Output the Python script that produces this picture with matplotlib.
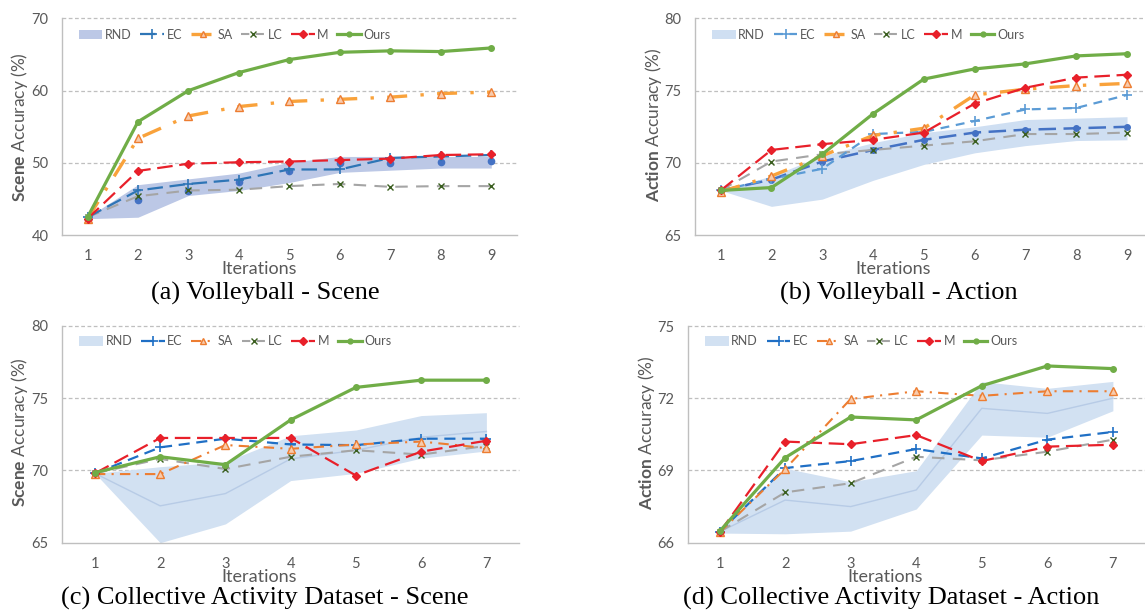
import matplotlib
matplotlib.use("Agg")
import matplotlib.pyplot as plt
from matplotlib.patches import Patch
from matplotlib.lines import Line2D

plt.rcParams['font.family'] = ['Lato', 'DejaVu Sans']
plt.rcParams['mathtext.fontset'] = 'custom'
plt.rcParams['mathtext.bf'] = 'Lato:bold'
plt.rcParams['mathtext.rm'] = 'Lato'

# ---------------- data ----------------
it9 = [1, 2, 3, 4, 5, 6, 7, 8, 9]
it7 = [1, 2, 3, 4, 5, 6, 7]

# (a) Volleyball - Scene
a_ours = [42.5, 55.7, 60.0, 62.5, 64.3, 65.3, 65.5, 65.4, 65.9]
a_sa = [42.3, 53.4, 56.5, 57.8, 58.5, 58.8, 59.1, 59.6, 59.8]
a_m = [42.3, 48.9, 49.9, 50.1, 50.2, 50.4, 50.6, 51.1, 51.2]
a_ec = [42.5, 46.2, 47.1, 47.7, 49.1, 49.1, 50.7, 50.9, 51.1]
a_lc = [42.5, 45.4, 46.2, 46.3, 46.8, 47.1, 46.7, 46.8, 46.8]
a_rnd_mean = [42.3, 44.9, 46.1, 47.4, 48.9, 50.0, 50.0, 50.2, 50.3]
a_rnd_hi = [42.5, 47.0, 47.8, 48.6, 50.1, 50.9, 50.9, 50.9, 50.9]
a_rnd_lo = [42.3, 42.5, 45.5, 46.2, 47.3, 48.7, 49.0, 49.3, 49.3]

# (b) Volleyball - Action
b_ours = [68.1, 68.3, 70.6, 73.4, 75.8, 76.5, 76.85, 77.4, 77.55]
b_sa = [68.0, 69.1, 70.5, 71.9, 72.4, 74.7, 75.1, 75.35, 75.5]
b_m = [68.1, 70.9, 71.3, 71.6, 72.1, 74.1, 75.2, 75.9, 76.1]
b_ec = [68.1, 68.9, 69.6, 72.0, 72.15, 72.9, 73.7, 73.8, 74.7]
b_lc = [68.1, 70.1, 70.6, 70.9, 71.2, 71.5, 72.0, 72.0, 72.1]
b_rnd_mean = [68.1, 68.85, 70.1, 70.9, 71.6, 72.1, 72.3, 72.4, 72.5]
b_rnd_hi = [68.1, 69.1, 70.5, 71.4, 72.1, 72.5, 73.0, 73.1, 73.2]
b_rnd_lo = [68.1, 67.0, 67.5, 68.8, 69.9, 70.7, 71.2, 71.55, 71.6]

# (c) Collective Activity Dataset - Scene
c_ours = [69.85, 70.95, 70.4, 73.5, 75.75, 76.25, 76.25]
c_sa = [69.75, 69.75, 71.76, 71.5, 71.8, 72.0, 71.55]
c_m = [69.8, 72.25, 72.25, 72.25, 69.65, 71.3, 72.06]
c_ec = [69.8, 71.6, 72.2, 71.8, 71.75, 72.2, 72.2]
c_lc = [69.8, 70.8, 70.1, 70.95, 71.4, 71.1, 71.7]
c_rnd_mean = [69.8, 67.55, 68.4, 70.8, 71.4, 72.3, 72.7]
c_rnd_hi = [69.8, 70.26, 70.6, 72.4, 72.8, 73.8, 74.0]
c_rnd_lo = [69.8, 65.0, 66.3, 69.3, 69.8, 70.85, 71.35]

# (d) Collective Activity Dataset - Action
d_ours = [66.47, 69.53, 71.22, 71.1, 72.52, 73.34, 73.23]
d_sa = [66.43, 69.06, 71.97, 72.29, 72.1, 72.29, 72.29]
d_m = [66.43, 70.2, 70.09, 70.47, 69.39, 69.99, 70.07]
d_ec = [66.45, 69.1, 69.39, 69.89, 69.5, 70.28, 70.6]
d_lc = [66.45, 68.09, 68.47, 69.57, 69.42, 69.78, 70.28]
d_rnd_mean = [66.45, 67.77, 67.5, 68.19, 71.58, 71.37, 72.0]
d_rnd_hi = [66.55, 69.09, 68.53, 68.99, 72.69, 72.41, 72.7]
d_rnd_lo = [66.4, 66.37, 66.48, 67.4, 70.47, 70.38, 71.48]

legend_labels = ['RND', 'EC', 'SA', 'LC', 'M', 'Ours']
captions = ['(a) Volleyball - Scene', '(b) Volleyball - Action',
            '(c) Collective Activity Dataset - Scene',
            '(d) Collective Activity Dataset - Action']
ylabels = [r'$\bf{Scene}$ Accuracy (%)', r'$\bf{Action}$ Accuracy (%)',
           r'$\bf{Scene}$ Accuracy (%)', r'$\bf{Action}$ Accuracy (%)']
xlabel = 'Iterations'

# ---------------- figure ----------------
W, H = 1145, 612
fig = plt.figure(figsize=(W / 100, H / 100), dpi=100)

def fx(px):
    return px / W

def fy(py):
    return 1 - py / H

TXT = '#595959'
GREEN = '#70AD47'
RED = '#E8202A'
GRAY = '#A5A5A5'
LCMK = '#3A5E1F'

panels = [
    dict(rect=(62.3, 18.3, 516.5, 235.3), x=it9, xlim=(0.5, 9.5), ylim=(40, 70), yt=[40, 50, 60, 70],
         ours=a_ours, sa=a_sa, m=a_m, ec=a_ec, lc=a_lc, mean=a_rnd_mean, hi=a_rnd_hi, lo=a_rnd_lo,
         band='#BCC8E6', ec_col='#2E75B6', ec_dash=(7, 3), sa_col='#F9A23B', sa_lw=2.4, sa_dash=(6, 4, 1, 4),
         mean_style='dots', ylab=(20, 127.5), xlab=(259.5, 269), cap=(265.4, 300), leg=(0.036, 0.952)),
    dict(rect=(695.3, 18.3, 1145, 235.3), x=it9, xlim=(0.5, 9.354), ylim=(65, 80), yt=[65, 70, 75, 80],
         ours=b_ours, sa=b_sa, m=b_m, ec=b_ec, lc=b_lc, mean=b_rnd_mean, hi=b_rnd_hi, lo=b_rnd_lo,
         band='#CFDFF2', ec_col='#5B9BD5', ec_dash=(4, 3), sa_col='#F9A23B', sa_lw=2.4, sa_dash=(6, 4, 1, 4),
         mean_style='dashed', ylab=(653.4, 125), xlab=(892.7, 269), cap=(898.6, 300), leg=(0.037, 0.952)),
    dict(rect=(62.3, 326, 519, 542.7), x=it7, xlim=(0.5, 7.5), ylim=(65, 80), yt=[65, 70, 75, 80],
         ours=c_ours, sa=c_sa, m=c_m, ec=c_ec, lc=c_lc, mean=c_rnd_mean, hi=c_rnd_hi, lo=c_rnd_lo,
         band='#D2E1F2', ec_col='#1F6FC5', ec_dash=(5, 3), sa_col='#ED7D31', sa_lw=1.5, sa_dash=(5, 3, 1, 3),
         mean_style='faint', ylab=(20, 432.5), xlab=(259, 577), cap=(264.5, 605), leg=(0.037, 0.957)),
    dict(rect=(688, 326, 1145, 542.7), x=it7, xlim=(0.518, 7.49), ylim=(66, 75), yt=[66, 69, 72, 75],
         ours=d_ours, sa=d_sa, m=d_m, ec=d_ec, lc=d_lc, mean=d_rnd_mean, hi=d_rnd_hi, lo=d_rnd_lo,
         band='#D2E1F2', ec_col='#1F6FC5', ec_dash=(5, 3), sa_col='#ED7D31', sa_lw=1.5, sa_dash=(5, 3, 1, 3),
         mean_style='faint', ylab=(646, 433), xlab=(885, 577), cap=(890.9, 605), leg=(0.037, 0.957)),
]

for i, p in enumerate(panels):
    l, t, r, b = p['rect']
    ax = fig.add_axes([fx(l), fy(b), fx(r) - fx(l), fy(t) - fy(b)])
    x = p['x']
    ax.set_xlim(*p['xlim'])
    ax.set_ylim(*p['ylim'])
    ax.set_xticks(x)
    ax.set_yticks(p['yt'])
    ax.tick_params(length=0, labelsize=10.5, colors=TXT)
    ax.tick_params(axis='x', pad=10)
    ax.tick_params(axis='y', pad=10)
    for s in ['top', 'right']:
        ax.spines[s].set_visible(False)
    for s in ['left', 'bottom']:
        ax.spines[s].set_color('#BFBFBF')
        ax.spines[s].set_linewidth(1.0)
    for yv in p['yt'][1:]:
        ax.axhline(yv, color='#BFBFBF', lw=0.9, ls=(0, (3, 2)), zorder=0.5, clip_on=False)

    # RND band
    ax.fill_between(x, p['lo'], p['hi'], color=p['band'], lw=0, zorder=1)
    if p['mean_style'] == 'dots':
        ax.plot(x, p['mean'], ls='none', marker='o', ms=4.5, color='#4472C4', zorder=2)
    elif p['mean_style'] == 'dashed':
        ax.plot(x, p['mean'], ls=(0, (7, 3)), lw=1.8, marker='o', ms=4, color='#4472C4', zorder=2)
    else:
        ax.plot(x, p['mean'], lw=1.0, color='#B7CBE6', zorder=1.5)

    ax.plot(x, p['lc'], color=GRAY, lw=1.5, ls=(0, (6, 4)), marker='x', ms=4.5, mec=LCMK, mew=1.0, zorder=3)
    ax.plot(x, p['ec'], color=p['ec_col'], lw=1.6, ls=(0, p['ec_dash']), marker='+', ms=7, mew=1.2, zorder=4)
    ax.plot(x, p['sa'], color=p['sa_col'], lw=p['sa_lw'], ls=(0, p['sa_dash']), marker='^', ms=5.5,
            mfc='#F8CBAD', mec='#ED7D31', mew=1.0, zorder=5)
    ax.plot(x, p['m'], color=RED, lw=1.6, ls=(0, (7, 3)), marker='D', ms=4.5, mfc=RED, mec=RED, zorder=6)
    ax.plot(x, p['ours'], color=GREEN, lw=2.3, marker='o', ms=4, zorder=7)

    handles = [
        Patch(facecolor=p['band'], edgecolor='none'),
        Line2D([], [], color=p['ec_col'], lw=1.6, ls=(0, p['ec_dash']), marker='+', ms=7, mew=1.2),
        Line2D([], [], color=p['sa_col'], lw=p['sa_lw'], ls=(0, p['sa_dash']), marker='^', ms=5,
               mfc='#F8CBAD', mec='#ED7D31'),
        Line2D([], [], color=GRAY, lw=1.5, ls=(0, (4, 3)), marker='x', ms=4.5, mec=LCMK),
        Line2D([], [], color=RED, lw=1.6, ls=(0, (5, 3)), marker='D', ms=4.5, mfc=RED, mec=RED),
        Line2D([], [], color=GREEN, lw=2.3, marker='o', ms=3.5),
    ]
    leg = ax.legend(handles, legend_labels, ncol=6, loc='upper left', bbox_to_anchor=p['leg'],
                    frameon=False, fontsize=9, handlelength=1.9, handletextpad=0.2,
                    columnspacing=0.7, borderpad=0, borderaxespad=0, handleheight=0.8)
    for txt in leg.get_texts():
        txt.set_color(TXT)

    fig.text(fx(p['ylab'][0]), fy(p['ylab'][1]), ylabels[i], rotation=90, ha='center', va='center',
             fontsize=12.5, color=TXT)
    fig.text(fx(p['xlab'][0]), fy(p['xlab'][1]), xlabel, ha='center', va='center', fontsize=13, color=TXT)
    fig.text(fx(p['cap'][0]), fy(p['cap'][1]), captions[i], ha='center', va='baseline', fontsize=19,
             family=['Liberation Serif', 'DejaVu Serif'], color='black')

fig.savefig('out.png', dpi=100)
